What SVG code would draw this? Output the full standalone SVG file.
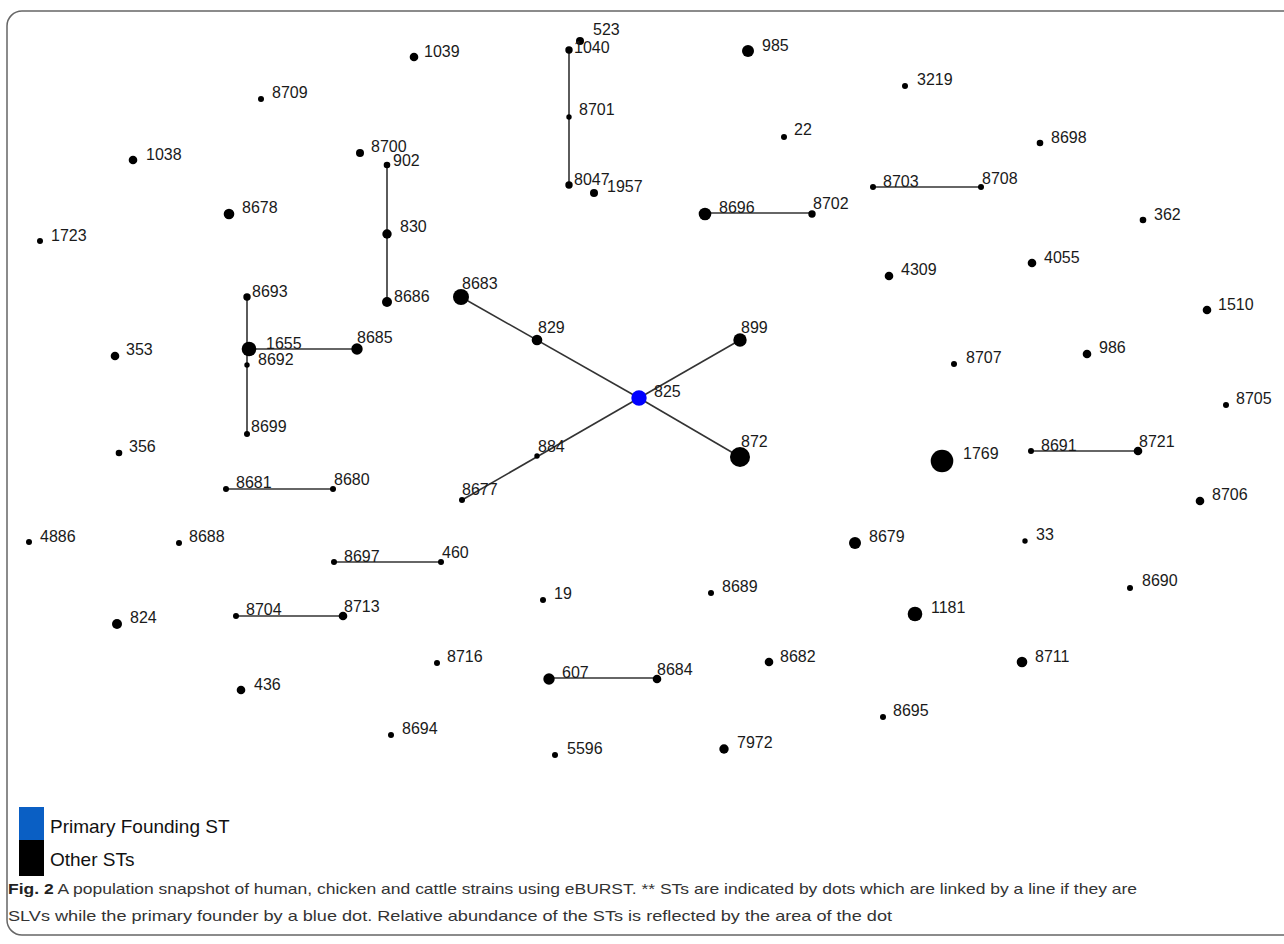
<svg xmlns="http://www.w3.org/2000/svg" width="1284" height="944" viewBox="0 0 1284 944">
<style>
.frame{fill:none;stroke:#666;stroke-width:1.5}
.node circle{fill:#000}
.node text{font-family:"Liberation Sans",Arial,sans-serif;font-size:16px;fill:#1a1a1a}
#n-825 circle{fill:#0000ff}
.edges line{stroke:#333;stroke-width:1.6}
.legend text{font-family:"Liberation Sans",Arial,sans-serif;font-size:19px;fill:#111}
.caption{font-family:"Liberation Sans",Arial,sans-serif;font-size:15px;fill:#333}
</style>
<rect class="frame" x="7" y="11" width="1300" height="924" rx="15"/>
<g class="edges" id="connectors">
<line x1="569" y1="50" x2="569" y2="185"/>
<line x1="387" y1="165" x2="387" y2="302"/>
<line x1="247" y1="297" x2="247" y2="434"/>
<line x1="249" y1="349" x2="357" y2="349"/>
<line x1="705" y1="213" x2="812" y2="213"/>
<line x1="873" y1="187" x2="981" y2="187"/>
<line x1="461" y1="297" x2="639" y2="398"/>
<line x1="639" y1="398" x2="740" y2="340"/>
<line x1="639" y1="398" x2="740" y2="457"/>
<line x1="639" y1="398" x2="462" y2="500"/>
<line x1="1031" y1="451" x2="1138" y2="451"/>
<line x1="226" y1="489" x2="333" y2="489"/>
<line x1="334" y1="562" x2="441" y2="562"/>
<line x1="236" y1="616" x2="343" y2="616"/>
<line x1="549" y1="678" x2="657" y2="678"/>
</g>
<g class="node" id="n-1039"><circle cx="414" cy="57" r="4.3"/><text x="424" y="57">1039</text></g>
<g class="node" id="n-8709"><circle cx="261" cy="99" r="3"/><text x="272" y="98">8709</text></g>
<g class="node" id="n-1038"><circle cx="133" cy="160" r="4.3"/><text x="146" y="160">1038</text></g>
<g class="node" id="n-8700"><circle cx="360" cy="153" r="4"/><text x="371" y="152">8700</text></g>
<g class="node" id="n-902"><circle cx="387" cy="165" r="3.3"/><text x="393" y="166">902</text></g>
<g class="node" id="n-8678"><circle cx="229" cy="214" r="5.3"/><text x="242" y="213">8678</text></g>
<g class="node" id="n-1723"><circle cx="40" cy="241" r="3"/><text x="51" y="241">1723</text></g>
<g class="node" id="n-830"><circle cx="387" cy="234" r="4.7"/><text x="400" y="232">830</text></g>
<g class="node" id="n-8693"><circle cx="247" cy="297" r="3.7"/><text x="252" y="297">8693</text></g>
<g class="node" id="n-8686"><circle cx="387" cy="302" r="5"/><text x="394" y="302">8686</text></g>
<g class="node" id="n-523"><circle cx="580" cy="41" r="4"/><text x="593" y="35">523</text></g>
<g class="node" id="n-1040"><circle cx="569" cy="50" r="3.7"/><text x="574" y="53">1040</text></g>
<g class="node" id="n-8701"><circle cx="569" cy="117" r="2.7"/><text x="579" y="115">8701</text></g>
<g class="node" id="n-8047"><circle cx="569" cy="185" r="3.7"/><text x="574" y="185">8047</text></g>
<g class="node" id="n-1957"><circle cx="594" cy="193" r="4"/><text x="607" y="192">1957</text></g>
<g class="node" id="n-985"><circle cx="748" cy="51" r="6"/><text x="762" y="51">985</text></g>
<g class="node" id="n-22"><circle cx="784" cy="137" r="3"/><text x="794" y="135">22</text></g>
<g class="node" id="n-8696"><circle cx="705" cy="214" r="6.3"/><text x="719" y="213">8696</text></g>
<g class="node" id="n-8702"><circle cx="812" cy="214" r="3.7"/><text x="813" y="209">8702</text></g>
<g class="node" id="n-8683"><circle cx="461" cy="297" r="8"/><text x="462" y="289">8683</text></g>
<g class="node" id="n-3219"><circle cx="905" cy="86" r="3"/><text x="917" y="85">3219</text></g>
<g class="node" id="n-8698"><circle cx="1040" cy="143" r="3.3"/><text x="1051" y="143">8698</text></g>
<g class="node" id="n-8703"><circle cx="873" cy="187" r="3"/><text x="883" y="187">8703</text></g>
<g class="node" id="n-8708"><circle cx="981" cy="187" r="3"/><text x="982" y="184">8708</text></g>
<g class="node" id="n-362"><circle cx="1143" cy="220" r="3.3"/><text x="1154" y="220">362</text></g>
<g class="node" id="n-4055"><circle cx="1032" cy="263" r="4.3"/><text x="1044" y="263">4055</text></g>
<g class="node" id="n-4309"><circle cx="889" cy="276" r="4.3"/><text x="901" y="275">4309</text></g>
<g class="node" id="n-1510"><circle cx="1207" cy="310" r="4.3"/><text x="1218" y="310">1510</text></g>
<g class="node" id="n-1655"><circle cx="249" cy="349" r="7.3"/><text x="266" y="349">1655</text></g>
<g class="node" id="n-8692"><circle cx="247" cy="365" r="2.7"/><text x="258" y="365">8692</text></g>
<g class="node" id="n-8685"><circle cx="357" cy="349" r="5.7"/><text x="357" y="343">8685</text></g>
<g class="node" id="n-353"><circle cx="115" cy="356" r="4.3"/><text x="126" y="355">353</text></g>
<g class="node" id="n-8699"><circle cx="247" cy="434" r="3"/><text x="251" y="432">8699</text></g>
<g class="node" id="n-356"><circle cx="119" cy="453" r="3.3"/><text x="129" y="452">356</text></g>
<g class="node" id="n-8681"><circle cx="226" cy="489" r="3"/><text x="236" y="488">8681</text></g>
<g class="node" id="n-8680"><circle cx="333" cy="489" r="3"/><text x="334" y="485">8680</text></g>
<g class="node" id="n-4886"><circle cx="29" cy="542" r="3"/><text x="40" y="542">4886</text></g>
<g class="node" id="n-8688"><circle cx="179" cy="543" r="3"/><text x="189" y="542">8688</text></g>
<g class="node" id="n-8697"><circle cx="334" cy="562" r="3"/><text x="344" y="562">8697</text></g>
<g class="node" id="n-460"><circle cx="441" cy="562" r="3"/><text x="442" y="558">460</text></g>
<g class="node" id="n-8704"><circle cx="236" cy="616" r="3"/><text x="246" y="615">8704</text></g>
<g class="node" id="n-8713"><circle cx="343" cy="616" r="4.3"/><text x="344" y="612">8713</text></g>
<g class="node" id="n-824"><circle cx="117" cy="624" r="5"/><text x="130" y="623">824</text></g>
<g class="node" id="n-829"><circle cx="537" cy="340" r="5.3"/><text x="538" y="333">829</text></g>
<g class="node" id="n-899"><circle cx="740" cy="340" r="6.7"/><text x="741" y="333">899</text></g>
<g class="node" id="n-825"><circle cx="639" cy="398" r="7.7"/><text x="654" y="397">825</text></g>
<g class="node" id="n-872"><circle cx="740" cy="457" r="10"/><text x="741" y="447">872</text></g>
<g class="node" id="n-884"><circle cx="537" cy="456" r="2.7"/><text x="538" y="452">884</text></g>
<g class="node" id="n-8677"><circle cx="462" cy="500" r="3"/><text x="462" y="495">8677</text></g>
<g class="node" id="n-19"><circle cx="543" cy="600" r="3"/><text x="554" y="599">19</text></g>
<g class="node" id="n-8689"><circle cx="711" cy="593" r="3"/><text x="722" y="592">8689</text></g>
<g class="node" id="n-8707"><circle cx="954" cy="364" r="3"/><text x="966" y="363">8707</text></g>
<g class="node" id="n-986"><circle cx="1087" cy="354" r="4.3"/><text x="1099" y="353">986</text></g>
<g class="node" id="n-8705"><circle cx="1226" cy="405" r="3"/><text x="1236" y="404">8705</text></g>
<g class="node" id="n-1769"><circle cx="942" cy="461" r="11.3"/><text x="963" y="459">1769</text></g>
<g class="node" id="n-8691"><circle cx="1031" cy="451" r="3"/><text x="1041" y="451">8691</text></g>
<g class="node" id="n-8721"><circle cx="1138" cy="451" r="4.3"/><text x="1139" y="447">8721</text></g>
<g class="node" id="n-8706"><circle cx="1200" cy="501" r="4.3"/><text x="1212" y="500">8706</text></g>
<g class="node" id="n-8679"><circle cx="855" cy="543" r="6"/><text x="869" y="542">8679</text></g>
<g class="node" id="n-33"><circle cx="1025" cy="541" r="2.7"/><text x="1036" y="540">33</text></g>
<g class="node" id="n-8690"><circle cx="1130" cy="588" r="3"/><text x="1142" y="586">8690</text></g>
<g class="node" id="n-1181"><circle cx="915" cy="614" r="7.3"/><text x="931" y="613">1181</text></g>
<g class="node" id="n-8711"><circle cx="1022" cy="662" r="5.3"/><text x="1035" y="662">8711</text></g>
<g class="node" id="n-8695"><circle cx="883" cy="717" r="3"/><text x="893" y="716">8695</text></g>
<g class="node" id="n-436"><circle cx="241" cy="690" r="4.3"/><text x="254" y="690">436</text></g>
<g class="node" id="n-8694"><circle cx="391" cy="735" r="3"/><text x="402" y="734">8694</text></g>
<g class="node" id="n-8716"><circle cx="437" cy="663" r="3"/><text x="447" y="662">8716</text></g>
<g class="node" id="n-607"><circle cx="549" cy="679" r="5.7"/><text x="562" y="678">607</text></g>
<g class="node" id="n-8684"><circle cx="657" cy="679" r="4.3"/><text x="657" y="675">8684</text></g>
<g class="node" id="n-8682"><circle cx="769" cy="662" r="4.3"/><text x="780" y="662">8682</text></g>
<g class="node" id="n-5596"><circle cx="555" cy="755" r="3"/><text x="567" y="754">5596</text></g>
<g class="node" id="n-7972"><circle cx="724" cy="749" r="4.7"/><text x="737" y="748">7972</text></g>
<g class="legend" id="legend">
<rect x="19" y="807" width="25" height="33" fill="#0a5fc4"/>
<rect x="19" y="840" width="25" height="36" fill="#000"/>
<text x="50" y="833">Primary Founding ST</text>
<text x="50" y="866">Other STs</text>
</g>
<g id="caption">
<text class="caption" x="8" y="894" textLength="1129" lengthAdjust="spacingAndGlyphs"><tspan font-weight="bold" fill="#222">Fig. 2</tspan>  A population snapshot of human, chicken and cattle strains using eBURST. ** STs are indicated by dots which are linked by a line if they are</text>
<text class="caption" x="8" y="921" textLength="884" lengthAdjust="spacingAndGlyphs">SLVs while the primary founder by a blue dot. Relative abundance of the STs is reflected by the area of the dot</text>
</g>
</svg>
